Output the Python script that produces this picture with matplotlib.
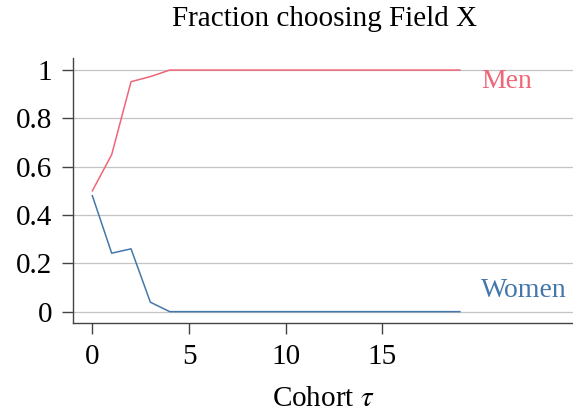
import matplotlib.pyplot as plt
import numpy as np

plt.rcParams['font.family'] = ['Liberation Serif', 'DejaVu Serif']
plt.rcParams['mathtext.fontset'] = 'stix'

# data
cohort = np.arange(20)
men = [0.50, 0.65, 0.952, 0.973] + [1.0] * 16
women = [0.48, 0.242, 0.26, 0.039] + [0.0] * 16

x_ticks = [0, 5, 10, 15]
y_ticks = [0, 0.2, 0.4, 0.6, 0.8, 1]
y_ticklabels = ["0", "0.2", "0.4", "0.6", "0.8", "1"]

men_color = "#EE6677"
women_color = "#4477AA"

fig = plt.figure(figsize=(5.73, 4.17), dpi=100)
ax = fig.add_axes([73 / 573, 1 - 323 / 417, 500 / 573, (323 - 58) / 417])

ax.plot(cohort, men, color=men_color, lw=1.1, zorder=3)
ax.plot(cohort, women, color=women_color, lw=1.1, zorder=3)

# direct labels at the right end
ax.text(20.1, 0.925, "Men", color=men_color, fontsize=20, va="baseline", ha="left")
ax.text(20.1, 0.061, "Women", color=women_color, fontsize=20, va="baseline", ha="left")

ax.set_xlim(-1, 24.85)
ax.set_ylim(-0.047, 1.05)
ax.set_xticks(x_ticks)
ax.set_yticks(y_ticks)
ax.set_yticklabels(y_ticklabels)
ax.tick_params(labelsize=21, length=8, width=1, color="#444444", pad=7)

ax.yaxis.grid(True, color="#c4c4c4", lw=0.9)
ax.set_axisbelow(True)
for s in ["top", "right"]:
    ax.spines[s].set_visible(False)
for s in ["left", "bottom"]:
    ax.spines[s].set_color("#444444")
    ax.spines[s].set_linewidth(1)

ax.set_xlabel(r"Cohort $\tau$", fontsize=21, labelpad=12)
fig.text(324 / 573, 1 - 26 / 417, "Fraction choosing Field X", fontsize=21,
         ha="center", va="baseline")

fig.savefig("out.png", dpi=100)
